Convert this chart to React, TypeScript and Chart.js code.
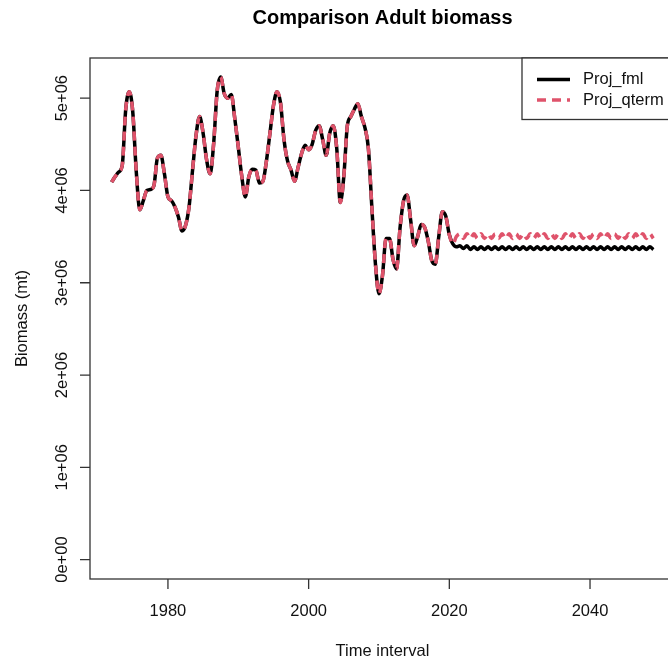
import { useEffect, useRef } from "react";
import { Chart, registerables } from "chart.js";

Chart.register(...registerables);

// Adult biomass, million t, half-year time steps
const START_YEAR = 1972;
const STEP = 0.5;

// Shared assessment period, 1972.0 – 2020.5
const historyBiomass = [
  4.09, 4.15, 4.2, 4.27, 4.88, 5.07, 4.85, 4.2, 3.79, 3.89,
  4.0, 4.01, 4.05, 4.35, 4.38, 4.18, 3.93, 3.89, 3.82, 3.71,
  3.56, 3.62, 3.82, 4.22, 4.6, 4.8, 4.62, 4.33, 4.18, 4.51,
  5.08, 5.23, 5.05, 5.0, 5.04, 4.78, 4.47, 4.15, 3.93, 4.15,
  4.23, 4.22, 4.08, 4.1, 4.32, 4.62, 4.92, 5.07, 4.95, 4.55,
  4.32, 4.22, 4.1, 4.25, 4.4, 4.49, 4.44, 4.5, 4.65, 4.7,
  4.55, 4.38, 4.62, 4.7, 4.45, 3.87, 4.15, 4.7, 4.8, 4.88,
  4.94, 4.8, 4.68, 4.45, 3.8, 3.2, 2.88, 3.08, 3.48, 3.48,
  3.25, 3.15, 3.6, 3.89, 3.95, 3.68, 3.4, 3.5, 3.63, 3.6,
  3.45, 3.24, 3.2, 3.5, 3.77, 3.72, 3.52, 3.42,
];

// Projection period, 2021.0 – 2049.0
const projFml = [
  3.39, 3.4, 3.37, 3.4, 3.36, 3.39, 3.36, 3.39, 3.36, 3.39,
  3.36, 3.39, 3.36, 3.39, 3.36, 3.39, 3.36, 3.39, 3.36, 3.39,
  3.36, 3.39, 3.36, 3.39, 3.36, 3.39, 3.36, 3.39, 3.36, 3.39,
  3.36, 3.39, 3.36, 3.39, 3.36, 3.39, 3.36, 3.39, 3.36, 3.39,
  3.36, 3.39, 3.36, 3.39, 3.36, 3.39, 3.36, 3.39, 3.36, 3.39,
  3.36, 3.39, 3.36, 3.39, 3.36, 3.39, 3.36,
];

const projQterm = [
  3.5, 3.53, 3.48, 3.53, 3.48, 3.53, 3.48, 3.53, 3.48, 3.53,
  3.48, 3.53, 3.48, 3.53, 3.48, 3.53, 3.48, 3.53, 3.48, 3.53,
  3.48, 3.53, 3.48, 3.53, 3.48, 3.53, 3.48, 3.53, 3.48, 3.53,
  3.48, 3.53, 3.48, 3.53, 3.48, 3.53, 3.48, 3.53, 3.48, 3.53,
  3.48, 3.53, 3.48, 3.53, 3.48, 3.53, 3.48, 3.53, 3.48, 3.53,
  3.48, 3.53, 3.48, 3.53, 3.48, 3.53, 3.48,
];

const X_TICKS = [1980, 2000, 2020, 2040];
const Y_TICKS = [0, 1, 2, 3, 4, 5];
const Y_TICK_LABELS = ["0e+00", "1e+06", "2e+06", "3e+06", "4e+06", "5e+06"];

const SERIES_NAMES = ["Proj_fml", "Proj_qterm"];
const SERIES_COLORS = ["#000000", "#DF536B"];

const TITLE = "Comparison Adult biomass";
const X_TITLE = "Time interval";
const Y_TITLE = "Biomass (mt)";

const FONT = '"Liberation Sans", Arial, Helvetica, sans-serif';

function toPoints(values: number[]) {
  return values.map((v, i) => ({ x: START_YEAR + i * STEP, y: v }));
}

const rStyleFrame = {
  id: "rStyleFrame",
  afterDraw(chart: any) {
    const { ctx, chartArea: a, scales } = chart;
    const xs = scales.x;
    const ys = scales.y;
    ctx.save();

    // plot box
    ctx.strokeStyle = "#333";
    ctx.lineWidth = 1.3;
    ctx.strokeRect(a.left, a.top, a.right - a.left, a.bottom - a.top);

    // tick marks
    ctx.beginPath();
    X_TICKS.forEach((t) => {
      const px = xs.getPixelForValue(t);
      ctx.moveTo(px, a.bottom);
      ctx.lineTo(px, a.bottom + 10);
    });
    Y_TICKS.forEach((v) => {
      const py = ys.getPixelForValue(v);
      ctx.moveTo(a.left, py);
      ctx.lineTo(a.left - 10, py);
    });
    ctx.stroke();

    ctx.fillStyle = "#111";
    ctx.font = `16.5px ${FONT}`;
    ctx.textAlign = "center";
    ctx.textBaseline = "middle";

    X_TICKS.forEach((t) => {
      ctx.fillText(String(t), xs.getPixelForValue(t), 611);
    });
    Y_TICKS.forEach((v, i) => {
      ctx.save();
      ctx.translate(62, ys.getPixelForValue(v));
      ctx.rotate(-Math.PI / 2);
      ctx.fillText(Y_TICK_LABELS[i], 0, 0);
      ctx.restore();
    });

    const midX = (a.left + a.right) / 2;
    const midY = (a.top + a.bottom) / 2;
    ctx.fillText(X_TITLE, midX, 651);
    ctx.save();
    ctx.translate(22, midY);
    ctx.rotate(-Math.PI / 2);
    ctx.fillText(Y_TITLE, 0, 0);
    ctx.restore();

    ctx.font = `bold 20px ${FONT}`;
    ctx.fillStyle = "#000";
    ctx.fillText(TITLE, midX, 18);

    // legend, top-right corner of the plot box
    const lx = 522;
    const lh = 61.5;
    ctx.fillStyle = "#fff";
    ctx.fillRect(lx, a.top, a.right - lx, lh);
    ctx.strokeStyle = "#333";
    ctx.lineWidth = 1.3;
    ctx.strokeRect(lx, a.top, a.right - lx, lh);

    const rows = [79.5, 100];
    ctx.font = `16.5px ${FONT}`;
    ctx.textAlign = "left";
    SERIES_NAMES.forEach((name, i) => {
      ctx.beginPath();
      ctx.strokeStyle = SERIES_COLORS[i];
      ctx.lineWidth = 3.5;
      ctx.lineCap = "butt";
      ctx.setLineDash(i === 1 ? [9, 6] : []);
      ctx.moveTo(537, rows[i]);
      ctx.lineTo(570, rows[i]);
      ctx.stroke();
      ctx.setLineDash([]);
      ctx.fillStyle = "#111";
      ctx.fillText(name, 583, rows[i]);
    });

    ctx.restore();
  },
};

export default function App() {
  const canvasRef = useRef<HTMLCanvasElement>(null);

  useEffect(() => {
    if (!canvasRef.current) return;
    const chart = new Chart(canvasRef.current, {
      type: "line",
      data: {
        datasets: [
          {
            label: SERIES_NAMES[0],
            data: toPoints([...historyBiomass, ...projFml]),
            borderColor: SERIES_COLORS[0],
            borderWidth: 3.5,
            pointRadius: 0,
            cubicInterpolationMode: "monotone",
            borderJoinStyle: "round",
            order: 2,
          },
          {
            label: SERIES_NAMES[1],
            data: toPoints([...historyBiomass, ...projQterm]),
            borderColor: SERIES_COLORS[1],
            borderWidth: 3.5,
            borderDash: [9, 6],
            pointRadius: 0,
            cubicInterpolationMode: "monotone",
            borderJoinStyle: "round",
            order: 1,
          },
        ],
      },
      options: {
        animation: false,
        responsive: true,
        maintainAspectRatio: false,
        devicePixelRatio: 1,
        layout: { padding: { left: 90, top: 58, right: 5, bottom: 84 } },
        plugins: {
          legend: { display: false },
          title: { display: false },
          tooltip: { enabled: false },
        },
        events: [],
        scales: {
          x: { type: "linear", display: false, min: 1968.92, max: 2052.08 },
          y: { type: "linear", display: false, min: -0.21, max: 5.435 },
        },
      },
      plugins: [rStyleFrame],
    });
    return () => chart.destroy();
  }, []);

  return (
    <div
      style={{
        position: "fixed",
        left: 0,
        top: 0,
        width: 668,
        height: 663,
        overflow: "hidden",
        background: "#fff",
      }}
    >
      <div style={{ position: "relative", width: 680, height: 663 }}>
        <canvas ref={canvasRef} />
      </div>
    </div>
  );
}
